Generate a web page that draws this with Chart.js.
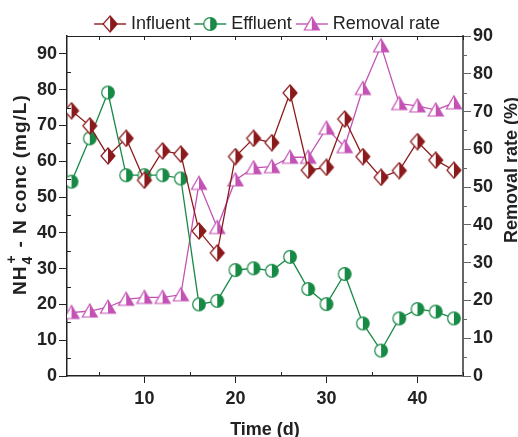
<!DOCTYPE html>
<html>
<head>
<meta charset="utf-8">
<script src="https://cdn.jsdelivr.net/npm/chart.js@4/dist/chart.umd.min.js"></script>
<style>
  html, body { margin: 0; padding: 0; background: #fff; }
  #wrap { width: 518px; height: 437px; }
</style>
</head>
<body>
<div id="wrap"><canvas id="myChart" width="518" height="437"></canvas></div>
<script>
// data
let days = [2, 4, 6, 8, 10, 12, 14, 16, 18, 20, 22, 24, 26, 28, 30, 32, 34, 36, 38, 40, 42, 44];
let influent = [74.1, 69.9, 61.5, 66.4, 54.7, 62.9, 62.0, 40.5, 34.4, 61.3, 66.4, 65.2, 79.1, 57.5, 58.3, 71.8, 61.3, 55.5, 57.4, 65.5, 60.3, 57.5];
let effluent = [54.3, 66.4, 79.2, 56.1, 56.1, 56.1, 55.2, 20.0, 21.0, 29.6, 30.1, 29.4, 33.3, 24.3, 20.1, 28.5, 14.7, 7.1, 16.1, 18.7, 18.0, 16.1];
let removalRate = [16.8, 17.2, 18.2, 20.3, 20.8, 20.8, 21.5, 51.0, 39.3, 51.9, 55.1, 55.4, 57.9, 57.9, 65.6, 60.7, 76.1, 87.4, 72.1, 71.5, 70.4, 72.3];

let seriesNames = ["Influent", "Effluent", "Removal rate"];
let xTicks = [10, 20, 30, 40];
let xMinorTicks = [5, 15, 25, 35, 45];
let topTicks = [5, 10, 15, 20, 25, 30, 35, 40, 45];
let leftTicks = [0, 10, 20, 30, 40, 50, 60, 70, 80, 90];
let leftMinorTicks = [5, 15, 25, 35, 45, 55, 65, 75, 85, 95];
let rightTicks = [0, 10, 20, 30, 40, 50, 60, 70, 80, 90];
let rightMinorTicks = [5, 15, 25, 35, 45, 55, 65, 75, 85];

const RED = "#8b1a1c";
const GREEN = "#178a45";
const PINK = "#c452b4";

// half-filled marker drawn on a small canvas (left half white, right half colour)
function makeMarker(shape, color, withLine) {
    let w = withLine ? 34 : 18;
    let h = 18;
    let c = document.createElement("canvas");
    c.width = w;
    c.height = h;
    let ctx = c.getContext("2d");
    let cx = w / 2, cy = h / 2;
    if (withLine) {
        ctx.strokeStyle = color;
        ctx.lineWidth = 1.4;
        ctx.beginPath();
        ctx.moveTo(1, cy);
        ctx.lineTo(w - 1, cy);
        ctx.stroke();
    }
    ctx.beginPath();
    if (shape === "diamond") {
        ctx.moveTo(cx, cy - 8);
        ctx.lineTo(cx + 7, cy);
        ctx.lineTo(cx, cy + 8);
        ctx.lineTo(cx - 7, cy);
        ctx.closePath();
    } else if (shape === "circle") {
        ctx.arc(cx, cy, 6.3, 0, Math.PI * 2);
    } else {
        ctx.moveTo(cx, cy - 7);
        ctx.lineTo(cx + 7.5, cy + 6);
        ctx.lineTo(cx - 7.5, cy + 6);
        ctx.closePath();
    }
    ctx.fillStyle = "#fff";
    ctx.fill();
    ctx.save();
    ctx.clip();
    ctx.fillStyle = color;
    ctx.fillRect(cx, 0, w - cx, h);
    ctx.restore();
    ctx.strokeStyle = color;
    ctx.lineWidth = 1.2;
    ctx.stroke();
    return c;
}

let markers = [makeMarker("diamond", RED), makeMarker("circle", GREEN), makeMarker("triangle", PINK)];
let legendMarkers = [makeMarker("diamond", RED, true), makeMarker("circle", GREEN, true), makeMarker("triangle", PINK, true)];
let colors = [RED, GREEN, PINK];

function toPoints(values) {
    return days.map((d, i) => ({ x: d, y: values[i] }));
}

// minor ticks, top border ticks and axis titles
const extrasPlugin = {
    id: "extras",
    afterInit(chart) {
        let legend = chart.legend;
        let origFit = legend.fit;
        let origDraw = legend.draw;
        legend.fit = function () {
            origFit.call(this);
            this.height = 36;
        };
        legend.draw = function () {
            this.ctx.save();
            this.ctx.translate(10, 7);
            origDraw.call(this);
            this.ctx.restore();
        };
    },
    afterDraw(chart) {
        let ctx = chart.ctx;
        let area = chart.chartArea;
        let sx = chart.scales.x, sl = chart.scales.y, sr = chart.scales.y1;
        ctx.save();
        ctx.lineWidth = 1;
        ctx.strokeStyle = "#222";
        // top border
        ctx.beginPath();
        ctx.moveTo(area.left, area.top + 0.5);
        ctx.lineTo(area.right, area.top + 0.5);
        ctx.stroke();
        ctx.beginPath();
        topTicks.forEach(v => {
            let px = Math.round(sx.getPixelForValue(v)) + 0.5;
            ctx.moveTo(px, area.top);
            ctx.lineTo(px, area.top + 4);
        });
        xMinorTicks.forEach(v => {
            let px = Math.round(sx.getPixelForValue(v)) + 0.5;
            ctx.moveTo(px, area.bottom);
            ctx.lineTo(px, area.bottom - 4);
        });
        leftMinorTicks.forEach(v => {
            let py = Math.round(sl.getPixelForValue(v)) + 0.5;
            ctx.moveTo(area.left, py);
            ctx.lineTo(area.left + 4, py);
        });
        ctx.stroke();
        ctx.strokeStyle = "#666";
        ctx.beginPath();
        rightMinorTicks.forEach(v => {
            let py = Math.round(sr.getPixelForValue(v)) + 0.5;
            ctx.moveTo(area.right, py);
            ctx.lineTo(area.right + 4, py);
        });
        ctx.stroke();

        // axis titles
        ctx.fillStyle = "#222";
        ctx.font = "bold 18px 'Liberation Sans', Arial, sans-serif";
        ctx.textAlign = "center";
        ctx.textBaseline = "alphabetic";
        ctx.fillText("Time (d)", (area.left + area.right) / 2, 435);

        ctx.save();
        ctx.translate(517, 243);
        ctx.rotate(-Math.PI / 2);
        ctx.textAlign = "left";
        ctx.fillText("Removal rate (%)", 0, 0);
        ctx.restore();

        ctx.save();
        ctx.translate(26, 295);
        ctx.rotate(-Math.PI / 2);
        ctx.textAlign = "left";
        ctx.letterSpacing = "1px";
        ctx.font = "bold 19px 'Liberation Sans', Arial, sans-serif";
        ctx.fillText("NH", 0, 0);
        let x = ctx.measureText("NH").width + 1;
        ctx.font = "bold 14px 'Liberation Sans', Arial, sans-serif";
        ctx.fillText("4", x, 6);
        ctx.fillText("+", x + 1, -10);
        x += ctx.measureText("4").width + 2;
        ctx.font = "bold 19px 'Liberation Sans', Arial, sans-serif";
        ctx.fillText(" - N conc (mg/L)", x, 0);
        ctx.restore();
        ctx.restore();
    }
};

const tickFont = { family: "'Liberation Sans', Arial, sans-serif", size: 18, weight: "bold" };

let ctx = document.getElementById("myChart").getContext("2d");
let myChart = new Chart(ctx, {
    type: "line",
    data: {
        datasets: [
            { label: seriesNames[0], data: toPoints(influent), yAxisID: "y" },
            { label: seriesNames[1], data: toPoints(effluent), yAxisID: "y" },
            { label: seriesNames[2], data: toPoints(removalRate), yAxisID: "y1" }
        ].map((ds, i) => Object.assign(ds, {
            borderColor: colors[i],
            backgroundColor: colors[i],
            borderWidth: 1.3,
            pointStyle: markers[i],
            pointRadius: 7,
            pointHoverRadius: 7,
            tension: 0,
            fill: false
        }))
    },
    options: {
        responsive: false,
        animation: false,
        events: [],
        layout: { padding: 0 },
        plugins: {
            tooltip: { enabled: false },
            legend: {
                position: "top",
                labels: {
                    usePointStyle: true,
                    pointStyleWidth: 24,
                    padding: 8,
                    color: "#222",
                    font: { family: "'Liberation Sans', Arial, sans-serif", size: 18 },
                    generateLabels: (chart) => seriesNames.map((name, i) => ({
                        text: name,
                        pointStyle: legendMarkers[i],
                        fillStyle: colors[i],
                        strokeStyle: colors[i],
                        fontColor: "#222",
                        lineWidth: 0,
                        datasetIndex: i,
                        hidden: false
                    }))
                }
            }
        },
        scales: {
            x: {
                type: "linear",
                min: 1.5,
                max: 45,
                afterBuildTicks: (scale) => { scale.ticks = xTicks.map(v => ({ value: v })); },
                afterFit: (scale) => { scale.height = 61; },
                ticks: { color: "#222", font: tickFont, padding: 5, maxRotation: 0 },
                grid: { drawOnChartArea: false, drawTicks: true, tickLength: 7, color: "#222", lineWidth: 1 },
                border: { display: true, color: "#222", width: 1.5 }
            },
            y: {
                position: "left",
                min: 0,
                max: 95,
                afterBuildTicks: (scale) => { scale.ticks = leftTicks.map(v => ({ value: v })); },
                afterFit: (scale) => { scale.width = 67; },
                ticks: { color: "#222", font: tickFont, padding: 2 },
                grid: { drawOnChartArea: false, drawTicks: true, tickLength: 8, color: "#222", lineWidth: 1 },
                border: { display: true, color: "#222", width: 1.5 }
            },
            y1: {
                position: "right",
                min: 0,
                max: 90,
                afterBuildTicks: (scale) => { scale.ticks = rightTicks.map(v => ({ value: v })); },
                afterFit: (scale) => { scale.width = 55; },
                ticks: { color: "#222", font: tickFont, padding: 2 },
                grid: { drawOnChartArea: false, drawTicks: true, tickLength: 8, color: "#666", lineWidth: 1 },
                border: { display: true, color: "#666", width: 2 }
            }
        }
    },
    plugins: [extrasPlugin]
});
</script>
</body>
</html>
